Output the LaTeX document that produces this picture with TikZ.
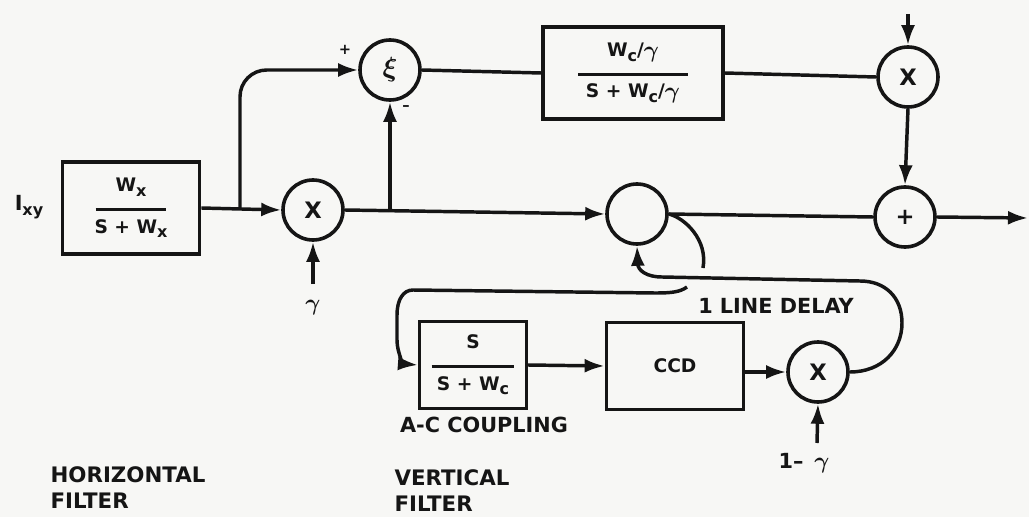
\documentclass[tikz,border=0pt]{standalone}
\usepackage{fontspec}
\setmainfont{DejaVu Sans}
\usetikzlibrary{arrows.meta, positioning}
\definecolor{ink}{HTML}{151515}
\definecolor{paper}{HTML}{F7F7F5}
\newcommand{\low}[1]{\raisebox{-3.5pt}{\fontsize{12}{12}\selectfont #1}}
\newcommand{\divline}[1]{\rule[-0.5pt]{#1}{2.2pt}}
\newcommand{\gam}{\raisebox{-0.5pt}{\fontsize{17}{17}\selectfont$\gamma$}}
\tikzset{
  box/.style  = {draw=ink, line width=2.6pt, fill=paper, minimum width=103pt,
                 minimum height=69pt, align=center, text=ink,
                 font=\fontsize{14}{20}\bfseries\boldmath\selectfont, inner sep=0pt},
  junc/.style = {circle, draw=ink, line width=2.7pt, minimum size=45pt, inner sep=0pt,
                 text=ink, font=\fontsize{17}{17}\bfseries\boldmath\selectfont},
  arr/.style  = {-{Latex[length=15pt, width=10.5pt]}, line width=2.6pt, ink},
  wire/.style = {line width=2.6pt, ink},
  labl/.style = {font=\fontsize{15.6}{19.5}\bfseries\boldmath\selectfont, text=ink, inner sep=1pt},
  filt/.style = {labl, align=left, anchor=west},
}

\begin{document}
\begin{tikzpicture}[x=0.75pt, y=-0.75pt]
  \useasboundingbox[fill=paper] (0,0) rectangle (1029,517);

  \node[box] (wx) at (131,208) {W\low{x}\\[-6pt]\divline{53pt}\\[-3pt]S + W\low{x}};
  \node[box, minimum width=135pt] (wc) at (633,73)
    {W\low{c}/\gam\\[-6pt]\divline{82pt}\\[-3pt]S + W\low{c}/\gam};
  \node[box, minimum width=80pt, minimum height=65pt] (hp) at (473,365)
    {S\\[-6pt]\divline{62pt}\\[-3pt]S + W\low{c}};
  \node[box, minimum height=65pt] (ccd) at (675,366) {CCD};

  \node[junc] (xa)  at (313,210) {X};
  \node[junc, font=\fontsize{21}{21}\bfseries\boldmath\selectfont] (sum) at (390,70)  {$\xi$};
  \node[junc] (xb)  at (908,77)  {X};
  \node[junc] (add) at (905,217) {+};
  \node[junc] (mix) at (637,214) {};
  \node[junc] (xc)  at (818,372) {X};

  % labels
  \node[labl] (ixy) at (29,207) {I\low{xy}};
  \node[labl] (gamma) at (313,308) {\gam};
  \node[labl] (oneg) at (804,463) {1-- \,\gam};
  \node[labl] (delay) at (776,306) {1 LINE DELAY};
  \node[labl] (ac) at (484,425) {A-C COUPLING};
  \node[labl] (plus) at (345,50) {\fontsize{11}{11}\selectfont +};
  \node[labl] (minus) at (406,108) {\fontsize{11}{11}\selectfont --};
  \node[filt, font=\fontsize{16}{19.5}\bfseries\selectfont] (hf) at (49,488) {HORIZONTAL\\FILTER};
  \node[filt, font=\fontsize{16}{19.5}\bfseries\selectfont] (vf) at (393,491) {VERTICAL\\FILTER};

  \coordinate (tapa) at (240,209);
  \coordinate (tapb) at (390,212);
  \coordinate (top)  at (908,14);
  \coordinate (out)  at (1028,218);
  \coordinate (froma) at (313,284);
  \coordinate (fromc) at (817,443);
  \coordinate (endl) at (703,268);
  \coordinate (endr) at (687,287);

  \foreach \a/\b in {wx.east/xa.west, xa.east/mix.west, top/xb.north, xb.south/add.north,
                     add.east/out, hp.east/ccd.west, froma/xa.south,
                     fromc/xc.south, tapb/sum.south}
    \draw[arr] (\a) -- (\b);
  \foreach \a/\b in {sum.east/wc.west, wc.east/xb.west, mix.east/add.west}
    \draw[wire] (\a) -- (\b);
  \draw[arr] (ccd.east |- xc.west) -- (xc.west);
  \draw[arr, rounded corners=20pt] (tapa) |- (sum.west);

  % feedback loop
  \draw[arr] (xc.east) .. controls (882,372) and (902,350) .. (902,323)
    .. controls (902,297) and (885,281) .. (860,281)
    -- (662,277) .. controls (646,277) and (638,270) .. (mix.south);
  \draw[wire] (mix.east) .. controls (685,218) and (708,240) .. (endl);
  \draw[arr] (endr) .. controls (680,292) and (672,293) .. (655,293)
    -- (413,290) .. controls (403,290) and (397,300) .. (397,315)
    -- (397,340) .. controls (397,354) and (405,364) .. (hp.west);
\end{tikzpicture}
\end{document}
